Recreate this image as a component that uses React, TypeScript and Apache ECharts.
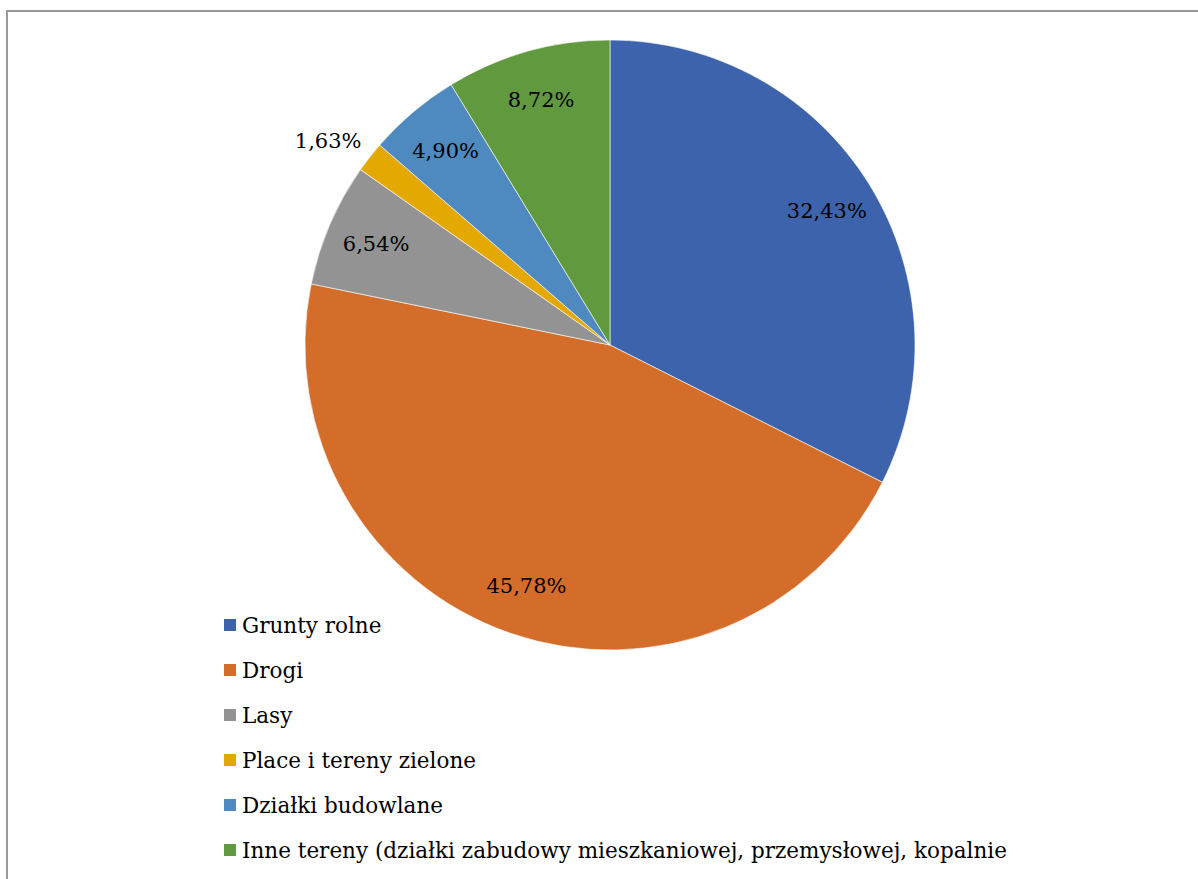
import React, { useEffect, useRef } from "react";
import * as echarts from "echarts";

const categories = [
  "Grunty rolne",
  "Drogi",
  "Lasy",
  "Place i tereny zielone",
  "Działki budowlane",
  "Inne tereny (działki zabudowy mieszkaniowej, przemysłowej, kopalnie",
];
const values = [32.43, 45.78, 6.54, 1.63, 4.9, 8.72];
const colors = ["#3D63AC", "#D46D2A", "#939393", "#E3A900", "#4E89BF", "#60993E"];
const outsideLabel = [false, false, false, true, false, false];

const FONT = "DejaVu Serif";
const fmt = (v: number) => v.toFixed(2).replace(".", ",") + "%";

export default function App() {
  const ref = useRef<HTMLDivElement>(null);
  useEffect(() => {
    if (!ref.current) return;
    const chart = echarts.init(ref.current, undefined, { renderer: "svg" });
    const R = 305;
    chart.setOption({
      animation: false,
      backgroundColor: "#ffffff",
      graphic: [
        {
          type: "rect",
          shape: { x: 7, y: 11, width: 1400, height: 1000 },
          style: { fill: "none", stroke: "#9a9a9a", lineWidth: 2 },
          silent: true,
        },
      ],
      legend: {
        orient: "vertical",
        left: 222,
        top: 612,
        padding: 0,
        icon: "rect",
        itemWidth: 14,
        itemHeight: 14,
        itemGap: 19,
        selectedMode: false,
        data: categories,
        textStyle: {
          fontFamily: FONT,
          fontSize: 21.5,
          color: "#000",
          lineHeight: 26,
        },
      },
      series: [
        {
          type: "pie",
          center: [610, 345],
          radius: [0, R],
          startAngle: 90,
          clockwise: true,
          label: { show: false },
          labelLine: { show: false },
          itemStyle: { borderColor: "#ffffff", borderWidth: 0.6 },
          emphasis: { disabled: true },
          data: categories.map((n, i) => ({
            name: n,
            value: values[i],
            itemStyle: { color: colors[i] },
          })),
        },
        {
          type: "pie",
          center: [610, 345],
          radius: [R * 0.7, R * 0.95],
          startAngle: 90,
          clockwise: true,
          silent: true,
          legendHoverLink: false,
          avoidLabelOverlap: false,
          emphasis: { disabled: true },
          itemStyle: { color: "rgba(0,0,0,0)" },
          label: {
            show: true,
            position: "inside",
            fontFamily: FONT,
            fontSize: 21,
            color: "#000",
            formatter: (p: any) => fmt(p.value),
          },
          labelLine: { show: false },
          data: categories.map((n, i) => ({
            name: n,
            value: values[i],
            label: outsideLabel[i]
              ? { position: "outside", distanceToLabelLine: -12 }
              : undefined,
            labelLine: outsideLabel[i]
              ? { show: false, length: 41, length2: 0 }
              : undefined,
          })),
        },
      ],
    });
    return () => chart.dispose();
  }, []);
  return (
    <div
      ref={ref}
      style={{ position: "fixed", left: 0, top: 0, width: 1198, height: 879 }}
    />
  );
}
